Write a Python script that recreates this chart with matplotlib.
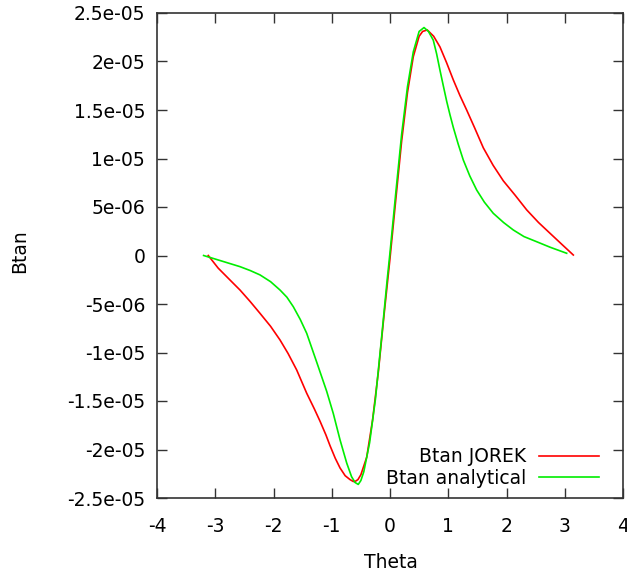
import matplotlib
matplotlib.use("Agg")
import matplotlib.pyplot as plt

plt.rcParams['font.family'] = ['DejaVu Sans']

# Data (Btan values in units of 1e-6)
theta_jorek = [-3.12, -2.95, -2.69, -2.575, -2.4, -2.232, -2.05, -1.888, -1.75, -1.602, -1.43,
               -1.3, -1.2, -1.1, -1.03, -0.94, -0.858, -0.77, -0.687, -0.63, -0.6, -0.55,
               -0.5, -0.4, -0.3, -0.2, -0.1, 0.0, 0.1, 0.2, 0.3, 0.4, 0.5, 0.56, 0.64,
               0.75, 0.858, 0.97, 1.087, 1.2, 1.316, 1.45, 1.602, 1.77, 1.945, 2.15,
               2.347, 2.55, 2.747, 2.95, 3.147]
btan_jorek = [0.0, -1.3, -2.87, -3.56, -4.75, -5.96, -7.3, -8.71, -10.1, -11.8, -14.2,
              -15.8, -17.1, -18.5, -19.6, -20.9, -21.9, -22.7, -23.1, -23.3, -23.3, -23.1,
              -22.6, -20.8, -17.0, -12.0, -6.0, -0.3, 5.8, 11.8, 16.8, 20.5, 22.6, 23.1, 23.25,
              22.6, 21.5, 19.9, 18.1, 16.5, 15.0, 13.2, 11.1, 9.3, 7.7, 6.2,
              4.7, 3.4, 2.29, 1.15, 0.05]

theta_analytical = [-3.2, -2.9, -2.575, -2.4, -2.232, -2.05, -1.888, -1.77, -1.66, -1.54, -1.43,
                    -1.258, -1.087, -0.973, -0.858, -0.743, -0.66, -0.6, -0.545, -0.5,
                    -0.45, -0.35, -0.25, -0.15, -0.05, 0.0, 0.1, 0.2, 0.3, 0.4, 0.5, 0.584,
                    0.66, 0.743, 0.8, 0.858, 0.915, 0.973, 1.03, 1.087, 1.17, 1.258, 1.37,
                    1.488, 1.62, 1.773, 1.95, 2.117, 2.3, 2.518, 2.75, 3.033]
btan_analytical = [0.0, -0.55, -1.15, -1.55, -2.0, -2.7, -3.56, -4.3, -5.28, -6.6, -8.02,
                   -11.0, -14.0, -16.3, -19.0, -21.4, -22.8, -23.4, -23.6, -23.2,
                   -22.3, -19.3, -14.8, -8.8, -2.6, 0.3, 6.5, 12.5, 17.4, 21.0, 23.1, 23.5,
                   23.1, 22.2, 20.8, 19.1, 17.5, 15.9, 14.5, 13.2, 11.5, 9.85, 8.2,
                   6.75, 5.5, 4.35, 3.4, 2.63, 1.95, 1.42, 0.85, 0.23]

x_ticks = [-4, -3, -2, -1, 0, 1, 2, 3, 4]
y_ticks = [2.5e-05, 2e-05, 1.5e-05, 1e-05, 5e-06, 0, -5e-06, -1e-05, -1.5e-05, -2e-05, -2.5e-05]
y_tick_labels = ['2.5e-05', '2e-05', '1.5e-05', '1e-05', '5e-06', '0',
                 '-5e-06', '-1e-05', '-1.5e-05', '-2e-05', '-2.5e-05']

W, H = 627, 572
fig = plt.figure(figsize=(W / 100, H / 100), dpi=100)
ax = fig.add_axes([157 / W, (H - 498) / H, (623 - 157) / W, (498 - 13) / H])

ax.plot(theta_jorek, [v * 1e-6 for v in btan_jorek], color='#ff0000', lw=1.2,
        label='Btan JOREK', solid_joinstyle='round')
ax.plot(theta_analytical, [v * 1e-6 for v in btan_analytical], color='#00ee00', lw=1.2,
        label='Btan analytical', solid_joinstyle='round')

ax.set_xlim(-4, 4)
ax.set_ylim(-2.5e-05, 2.5e-05)
ax.set_xticks(x_ticks)
ax.set_xticklabels([str(t) for t in x_ticks])
ax.set_yticks(y_ticks)
ax.set_yticklabels(y_tick_labels)

fs = 13.5
ax.tick_params(direction='in', length=7, width=1, color='#333333', labelsize=fs,
               top=True, right=True, labelcolor='black')
ax.tick_params(axis='y', pad=8.5)
ax.tick_params(axis='x', pad=14)
for s in ax.spines.values():
    s.set_color('#333333')
    s.set_linewidth(1.2)

fig.text(20 / W, (H - 251) / H, 'Btan', rotation=90, ha='center', va='center', fontsize=fs)
fig.text(391 / W, (H - 562) / H, 'Theta', ha='center', va='center', fontsize=fs)

leg = ax.legend(loc='lower right', bbox_to_anchor=(599 / W, (H - 488) / H),
                bbox_transform=fig.transFigure, frameon=False, markerfirst=False,
                fontsize=fs, handlelength=3.2, handletextpad=0.7, labelspacing=0.15,
                borderpad=0, borderaxespad=0)

fig.savefig('out.png', dpi=100)
